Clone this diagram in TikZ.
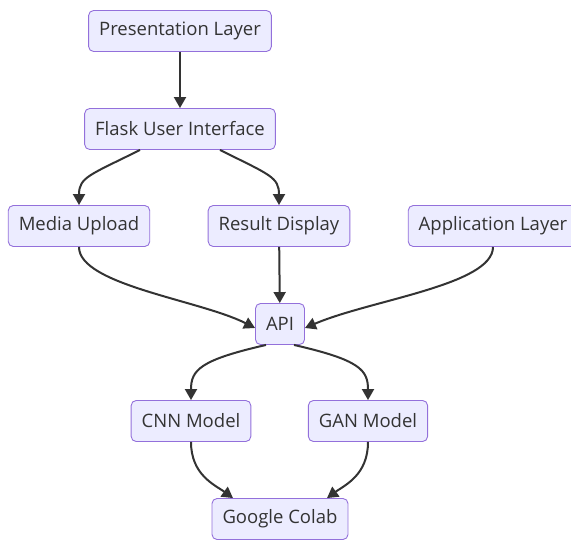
\documentclass[tikz,border=0pt]{standalone}
\usepackage{fontspec}
\setmainfont{Open Sans}
\usetikzlibrary{arrows.meta}
\definecolor{boxfill}{HTML}{ECECFF}
\definecolor{boxline}{HTML}{9370DB}
\definecolor{edge}{HTML}{333333}
\begin{document}
\begin{tikzpicture}[x=1pt,y=-1pt,font=\fontsize{18.5}{22}\selectfont,
  box/.style={draw=boxline,fill=boxfill,rounded corners=5pt,line width=0.9pt,
    minimum height=41pt,inner xsep=10.5pt,text=edge},
  link/.style={draw=edge,line width=2pt,-{Triangle[length=11pt,width=12pt]}}]
\useasboundingbox (0,0) rectangle (571,539);
% nodes, top to bottom
\node[box] (pres) at (180,31) {Presentation Layer};
\node[box] (flask) at (180,129) {Flask User Interface};
\foreach \name/\x/\txt in {media/79/Media Upload,result/279/Result Display,app/493/Application Layer}{
\node[box] (\name) at (\x,226) {\txt};
}
\node[box] (api) at (280,324) {API};
\node[box] (cnn) at (191,421) {CNN Model};
\node[box] (gan) at (368,421) {GAN Model};
\node[box] (colab) at (280,519) {Google Colab};
% edges
\draw[link] (pres) -- (flask);
\draw[link] ([xshift=-40pt]flask.south) .. controls +(-50,25) and +(0,-28) .. (media.north);
\draw[link] ([xshift=40pt]flask.south) .. controls +(50,25) and +(0,-28) .. (result.north);
\draw[link] (result) -- (api);
\draw[link] (media.south) .. controls (79,285) and (200,300) .. ([yshift=-4pt]api.west);
\draw[link] (app.south) .. controls (493,285) and (370,300) .. ([yshift=-4pt]api.east);
\draw[link] ([xshift=-14pt]api.south) .. controls (200,360) and (191,370) .. (cnn.north);
\draw[link] ([xshift=14pt]api.south) .. controls (360,360) and (368,370) .. (gan.north);
\draw[link] (cnn.south) .. controls (191,475) and (215,485) .. ([xshift=-47pt]colab.north);
\draw[link] (gan.south) .. controls (368,475) and (345,485) .. ([xshift=47pt]colab.north);
\end{tikzpicture}
\end{document}
